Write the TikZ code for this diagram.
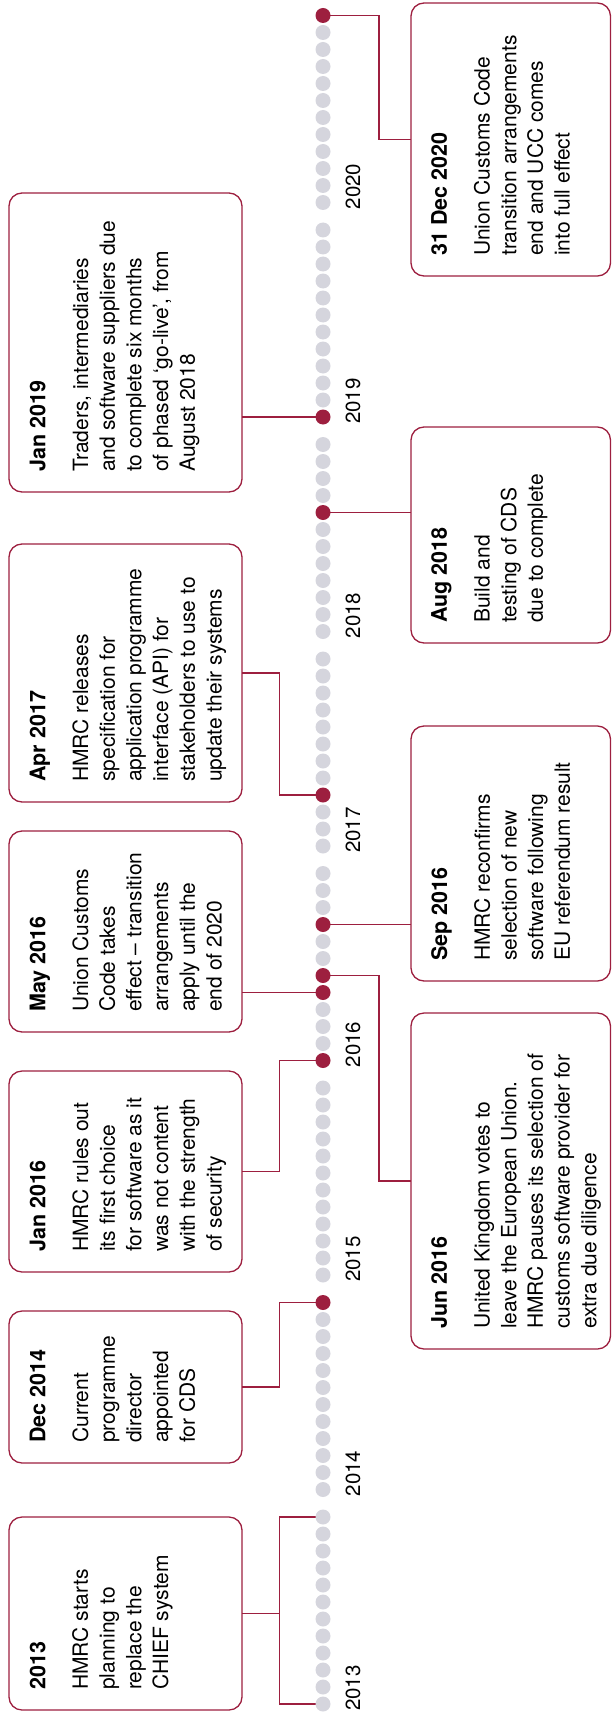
\documentclass[tikz,border=0pt]{standalone}
\usepackage{fontspec}
\setmainfont{TeX Gyre Heros}
\usetikzlibrary{backgrounds,calc}
\definecolor{crim}{RGB}{157,31,63}
\definecolor{dotgrey}{RGB}{213,213,221}
\begin{document}
\begin{tikzpicture}[x=1pt,y=-1pt,
  evbox/.style={draw=crim, line width=1.3pt, rounded corners=13pt, inner sep=0pt, outer sep=0pt},
  link/.style={draw=crim, line width=1.3pt},
  dotg/.style={circle, fill=dotgrey, inner sep=0pt, outer sep=0pt, minimum size=15pt},
  yearlbl/.style={rotate=90, anchor=west, inner sep=0pt, font=\fontsize{20.5}{24}\selectfont},
  evtext/.style={rotate=90, anchor=north west, inner sep=0pt, align=left, font=\fontsize{21}{26.7}\selectfont},
  ttl/.style={font=\fontsize{21.5}{26.7}\selectfont\bfseries},
  m2014-12/.style={fill=crim}, m2016-1/.style={fill=crim}, m2016-5/.style={fill=crim},
  m2016-6/.style={fill=crim}, m2016-9/.style={fill=crim}, m2017-4/.style={fill=crim},
  m2018-8/.style={fill=crim}, m2019-1/.style={fill=crim}, m2020-12/.style={fill=crim},
]
\useasboundingbox (0,0) rectangle (612,1712);

% month dots
\foreach \yr in {2013,...,2020} {
  \foreach \m in {1,...,12} {
    \pgfmathsetmacro\yy{1704-(\yr-2013)*214.5-(\m-1)*17}
    \node[dotg, m\yr-\m/.try] (d\yr-\m) at (323,\yy) {};
  }
  \pgfmathsetmacro\ly{1704-(\yr-2013)*214.5+7}
  \node[yearlbl] (y\yr) at (353,\ly) {\yr};
}

\coordinate (exl) at (279.5,0);
\coordinate (exr) at (379,0);

% left boxes (x 9..242)
\node[evbox, minimum width=233pt, minimum height=299pt] (b19) at (125.5,342.5) {};
\node[evbox, minimum width=233pt, minimum height=258pt] (b17) at (125.5,673) {};
\node[evbox, minimum width=233pt, minimum height=201pt] (b16m) at (125.5,931.5) {};
\node[evbox, minimum width=233pt, minimum height=201pt] (b16j) at (125.5,1171.5) {};
\node[evbox, minimum width=233pt, minimum height=152pt] (b14) at (125.5,1387) {};
\node[evbox, minimum width=233pt, minimum height=193pt] (b13) at (125.5,1613.5) {};
% right boxes (x 411..610.5)
\node[evbox, minimum width=199.5pt, minimum height=273pt] (b20) at (510.75,139.5) {};
\node[evbox, minimum width=199.5pt, minimum height=216pt] (b18) at (510.75,535) {};
\node[evbox, minimum width=199.5pt, minimum height=255pt] (b16s) at (510.75,853.5) {};
\node[evbox, minimum width=199.5pt, minimum height=336pt] (b16u) at (510.75,1181) {};

% texts
\node[evtext] (t19) at (29.5,472) {\textbf{\fontsize{21.5}{26.7}\selectfont Jan 2019}\\[16pt]Traders, intermediaries\\and software suppliers due\\to complete six months\\of phased ‘go-live’, from\\August 2018};
\node[evtext] (t17) at (29.5,782) {\textbf{\fontsize{21.5}{26.7}\selectfont Apr 2017}\\[16pt]HMRC releases\\specification for\\application programme\\interface (API) for\\stakeholders to use to\\update their systems};
\node[evtext] (t16m) at (29.5,1012) {\textbf{\fontsize{21.5}{26.7}\selectfont May 2016}\\[16pt]Union Customs\\Code takes\\effect – transition\\arrangements\\apply until the\\end of 2020};
\node[evtext] (t16j) at (29.5,1252) {\textbf{\fontsize{21.5}{26.7}\selectfont Jan 2016}\\[16pt]HMRC rules out\\its first choice\\for software as it\\was not content\\with the strength\\of security};
\node[evtext] (t14) at (29.5,1443) {\textbf{\fontsize{21.5}{26.7}\selectfont Dec 2014}\\[16pt]Current\\programme\\director\\appointed\\for CDS};
\node[evtext] (t13) at (29.5,1690) {\textbf{\fontsize{21.5}{26.7}\selectfont 2013}\\[16pt]HMRC starts\\planning to\\replace the\\CHIEF system};
\node[evtext] (t20) at (431,256) {\textbf{\fontsize{21.5}{26.7}\selectfont 31 Dec 2020}\\[16pt]Union Customs Code\\transition arrangements\\end and UCC comes\\into full effect};
\node[evtext] (t18) at (431,623) {\textbf{\fontsize{21.5}{26.7}\selectfont Aug 2018}\\[16pt]Build and\\testing of CDS\\due to complete};
\node[evtext] (t16s) at (431,961) {\textbf{\fontsize{21.5}{26.7}\selectfont Sep 2016}\\[16pt]HMRC reconfirms\\selection of new\\software following\\EU referendum result};
\node[evtext] (t16u) at (431,1329) {\textbf{\fontsize{21.5}{26.7}\selectfont Jun 2016}\\[16pt]United Kingdom votes to\\leave the European Union.\\HMRC pauses its selection of\\customs software provider for\\extra due diligence};

% connectors
\begin{scope}[on background layer]
  \draw[link] (d2013-1.center) -- (d2013-1.center -| exl) -- (d2013-12.center -| exl) -- (d2013-12.center);
  \draw[link] (b13.east) -- (b13.east -| exl);
  \draw[link] (d2014-12.center) -- (d2014-12.center -| exl) |- (b14.east);
  \draw[link] (d2016-1.center) -- (d2016-1.center -| exl) |- (b16j.east);
  \draw[link] (d2016-5.center) -- (d2016-5.center -| b16m.east);
  \draw[link] (d2017-4.center) -- (d2017-4.center -| exl) |- (b17.east);
  \draw[link] (d2019-1.center) -- (d2019-1.center -| b19.east);
  \draw[link] (d2020-12.center) -- (d2020-12.center -| exr) |- (b20.west);
  \draw[link] (d2018-8.center) -- (d2018-8.center -| b18.west);
  \draw[link] (d2016-9.center) -- (d2016-9.center -| b16s.west);
  \draw[link] (d2016-6.center) -- (d2016-6.center -| exr) |- (b16u.west);
\end{scope}
\end{tikzpicture}
\end{document}
